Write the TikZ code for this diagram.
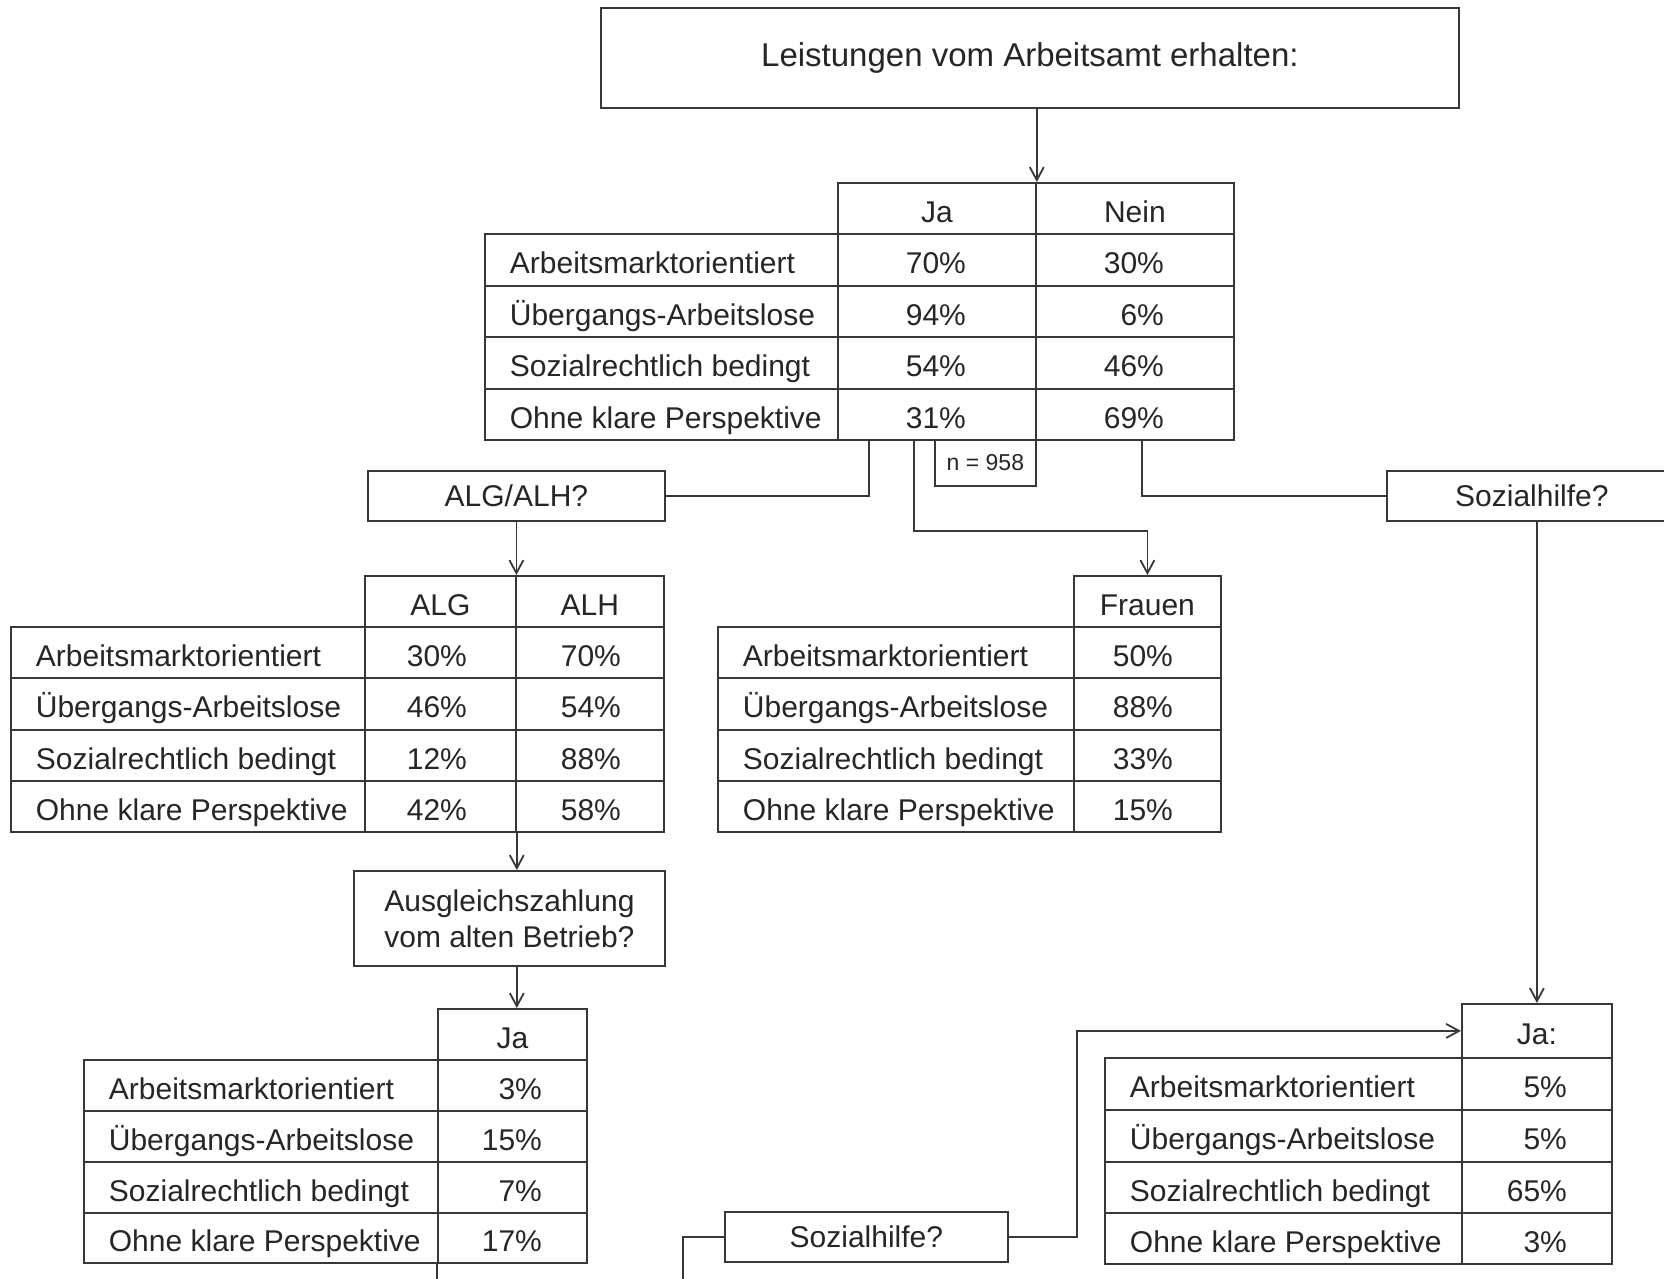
\documentclass[tikz,border=0pt]{standalone}
\usepackage{fontspec}
\setmainfont{Liberation Sans}
\usetikzlibrary{arrows.meta}
\definecolor{ink}{gray}{0.22}
\definecolor{txt}{gray}{0.15}
\newcommand{\fzL}{\fontsize{30}{36}\selectfont}
\newcommand{\LcX}[6]{\node[cellst, minimum width=#4pt, minimum height=#5pt, anchor=north west] (#1) at (#2,#3) {\makebox[#4pt][l]{\hspace{25pt}#6}};}
\newcommand{\VcX}[7]{\node[cellst, minimum width=#4pt, minimum height=#5pt, anchor=north west] (#1) at (#2,#3) {\makebox[#4pt][r]{#7\hspace{#6pt}}};}
\newcommand{\HcX}[6]{\node[cellst, minimum width=#4pt, minimum height=#5pt, anchor=north west] (#1) at (#2,#3) {#6};}
\begin{document}
\begin{tikzpicture}[x=1pt,y=-1pt,
  cellst/.style={draw=ink, line width=1.8pt, inner sep=0pt, text height=28pt, text depth=0pt, font=\fzL, text=txt},
  boxst/.style={draw=ink, line width=1.8pt, inner sep=0pt, font=\fzL, text=txt, align=center},
  conn/.style={draw=ink, line width=1.8pt},
  arr/.style={conn, -{Straight Barb[length=13pt,width=14pt]}}]
\fill[white] (0,0) rectangle (1664,1278);
\useasboundingbox (0,0) rectangle (1664,1278);

% title
\node[boxst, minimum width=858pt, minimum height=100pt, anchor=north west, font=\fontsize{33}{40}\selectfont] (top) at (600,7) {Leistungen vom Arbeitsamt erhalten:};

% table 1
\HcX{t1ha}{837}{182}{198}{51}{Ja}
\HcX{t1hb}{1035}{182}{198}{51}{Nein}
\LcX{t1l1}{484}{233}{353}{52}{Arbeitsmarktorientiert}
\VcX{t1a1}{837}{233}{198}{52}{70}{70\%}
\VcX{t1b1}{1035}{233}{198}{52}{70}{30\%}
\LcX{t1l2}{484}{285}{353}{51}{Übergangs-Arbeitslose}
\VcX{t1a2}{837}{285}{198}{51}{70}{94\%}
\VcX{t1b2}{1035}{285}{198}{51}{70}{6\%}
\LcX{t1l3}{484}{336}{353}{52}{Sozialrechtlich bedingt}
\VcX{t1a3}{837}{336}{198}{52}{70}{54\%}
\VcX{t1b3}{1035}{336}{198}{52}{70}{46\%}
\LcX{t1l4}{484}{388}{353}{51}{Ohne klare Perspektive}
\VcX{t1a4}{837}{388}{198}{51}{70}{31\%}
\VcX{t1b4}{1035}{388}{198}{51}{70}{69\%}
\node[boxst, minimum width=101pt, minimum height=46pt, anchor=north west, font=\fontsize{23}{28}\selectfont] (nn) at (934,439) {n = 958};

% question boxes
\node[boxst, minimum width=297pt, minimum height=50pt, anchor=north west] (alg) at (367,470) {ALG/ALH?};
\node[boxst, minimum width=290pt, minimum height=50pt, anchor=north west] (soz1) at (1386,470) {Sozialhilfe?};

% table 2
\HcX{t2ha}{364}{575}{151}{51}{ALG}
\HcX{t2hb}{515}{575}{148}{51}{ALH}
\LcX{t2l1}{10}{626}{354}{51}{Arbeitsmarktorientiert}
\VcX{t2a1}{364}{626}{151}{51}{49}{30\%}
\VcX{t2b1}{515}{626}{148}{51}{43}{70\%}
\LcX{t2l2}{10}{677}{354}{52}{Übergangs-Arbeitslose}
\VcX{t2a2}{364}{677}{151}{52}{49}{46\%}
\VcX{t2b2}{515}{677}{148}{52}{43}{54\%}
\LcX{t2l3}{10}{729}{354}{51}{Sozialrechtlich bedingt}
\VcX{t2a3}{364}{729}{151}{51}{49}{12\%}
\VcX{t2b3}{515}{729}{148}{51}{43}{88\%}
\LcX{t2l4}{10}{780}{354}{51}{Ohne klare Perspektive}
\VcX{t2a4}{364}{780}{151}{51}{49}{42\%}
\VcX{t2b4}{515}{780}{148}{51}{43}{58\%}

% Frauen table
\HcX{t5h}{1073}{575}{147}{51}{Frauen}
\LcX{t5l1}{717}{626}{356}{51}{Arbeitsmarktorientiert}
\VcX{t5a1}{1073}{626}{147}{51}{48}{50\%}
\LcX{t5l2}{717}{677}{356}{52}{Übergangs-Arbeitslose}
\VcX{t5a2}{1073}{677}{147}{52}{48}{88\%}
\LcX{t5l3}{717}{729}{356}{51}{Sozialrechtlich bedingt}
\VcX{t5a3}{1073}{729}{147}{51}{48}{33\%}
\LcX{t5l4}{717}{780}{356}{51}{Ohne klare Perspektive}
\VcX{t5a4}{1073}{780}{147}{51}{48}{15\%}

% Ausgleich
\node[boxst, minimum width=311pt, minimum height=95pt, anchor=north west] (ausg) at (353,870) {Ausgleichszahlung\\vom alten Betrieb?};

% table 3
\HcX{t3h}{437}{1008}{149}{51}{Ja}
\LcX{t3l1}{83}{1059}{354}{51}{Arbeitsmarktorientiert}
\VcX{t3a1}{437}{1059}{149}{51}{45}{3\%}
\LcX{t3l2}{83}{1110}{354}{51}{Übergangs-Arbeitslose}
\VcX{t3a2}{437}{1110}{149}{51}{45}{15\%}
\LcX{t3l3}{83}{1161}{354}{51}{Sozialrechtlich bedingt}
\VcX{t3a3}{437}{1161}{149}{51}{45}{7\%}
\LcX{t3l4}{83}{1212}{354}{50}{Ohne klare Perspektive}
\VcX{t3a4}{437}{1212}{149}{50}{45}{17\%}

% lower Sozialhilfe
\node[boxst, minimum width=283pt, minimum height=50pt, anchor=north west] (soz2) at (724,1211) {Sozialhilfe?};

% table 4
\HcX{t4h}{1461}{1003}{150}{54}{Ja:}
\LcX{t4l1}{1104}{1057}{357}{52}{Arbeitsmarktorientiert}
\VcX{t4a1}{1461}{1057}{150}{52}{45}{5\%}
\LcX{t4l2}{1104}{1109}{357}{52}{Übergangs-Arbeitslose}
\VcX{t4a2}{1461}{1109}{150}{52}{45}{5\%}
\LcX{t4l3}{1104}{1161}{357}{51}{Sozialrechtlich bedingt}
\VcX{t4a3}{1461}{1161}{150}{51}{45}{65\%}
\LcX{t4l4}{1104}{1212}{357}{51}{Ohne klare Perspektive}
\VcX{t4a4}{1461}{1212}{150}{51}{45}{3\%}

% connectors
\draw[arr] (top.south -| t1ha.north east) -- (t1ha.north east);
\draw[conn] ([xshift=32pt]t1a4.south west) |- (alg.east);
\draw[arr] ([xshift=77pt]t1a4.south west) -- ++(0,90) -| (t5h.north);
\draw[conn] ([xshift=107pt]t1b4.south west) |- (soz1.west);
\draw[arr] (alg.south) -- (alg.south |- t2ha.north);
\draw[arr] (t2a4.south east) -- (t2a4.south east |- ausg.north);
\draw[arr] (t2a4.south east |- ausg.south) -- (t2a4.south east |- t3h.north);
\coordinate (e1) at (437,1282);
\draw[conn] (t3a4.south west) -- (e1);
\coordinate (e2) at (683,1282);
\draw[conn] (soz2.west) -| (e2);
\draw[arr] (soz2.east) -- ++(68,0) |- (t4h.west);
\draw[arr] (soz1.south -| t4h.north) -- (t4h.north);
\end{tikzpicture}
\end{document}
